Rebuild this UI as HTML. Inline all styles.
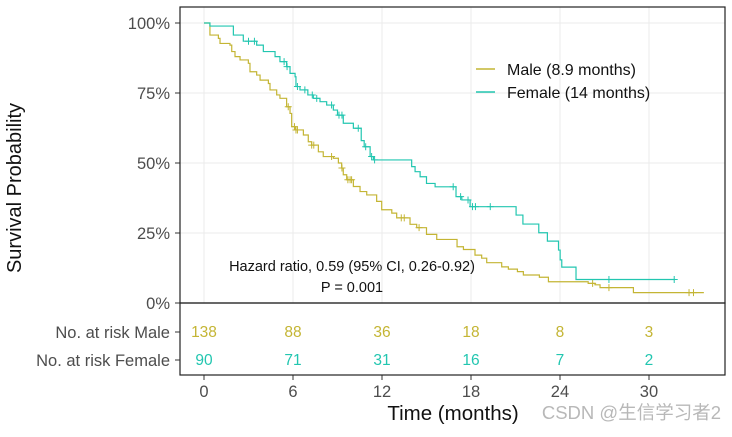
<!DOCTYPE html>
<html><head><meta charset="utf-8"><style>
body{margin:0;background:#fff;}
svg text{font-family:"Liberation Sans",Arial,sans-serif;}
</style></head><body>
<svg id="chart" width="732" height="432" viewBox="0 0 732 432" xmlns="http://www.w3.org/2000/svg">
<g id="grid"></g>
<g id="curves"></g>
<g id="axes"></g>
<rect x="180" y="7" width="545" height="296" fill="none" stroke="#222" stroke-width="1.2"/>
<rect x="180" y="303" width="545" height="72" fill="none" stroke="#222" stroke-width="1.2"/>
<g>
<line x1="476" y1="69" x2="495" y2="69" stroke="#c4b534" stroke-width="1.5"/>
<text x="507" y="75" font-size="16" fill="#111">Male (8.9 months)</text>
<line x1="476" y1="92" x2="495" y2="92" stroke="#22c6b0" stroke-width="1.5"/>
<text x="507" y="98" font-size="16" fill="#111">Female (14 months)</text>
</g>
<text x="352" y="271" font-size="14.5" text-anchor="middle" fill="#111">Hazard ratio, 0.59 (95% CI, 0.26-0.92)</text>
<text x="352" y="292" font-size="14.5" text-anchor="middle" fill="#111">P = 0.001</text>
<text transform="translate(21,188) rotate(-90)" font-size="20" text-anchor="middle" fill="#111">Survival Probability</text>
<text x="453" y="420" font-size="20.5" text-anchor="middle" fill="#111">Time (months)</text>
<text x="170" y="338" font-size="16.5" text-anchor="end" fill="#4d4d4d">No. at risk Male</text>
<text x="170" y="366" font-size="16.5" text-anchor="end" fill="#4d4d4d">No. at risk Female</text>
<line x1="175" y1="332" x2="180" y2="332" stroke="#333"/>
<line x1="175" y1="360" x2="180" y2="360" stroke="#333"/>
<text x="721" y="419" font-size="18.5" text-anchor="end" fill="#b8b8b8" style='font-family:"Liberation Sans","Noto Sans CJK SC",sans-serif'>CSDN @生信学习者2</text>
</svg>
<script>
const xTicks=[0,6,12,18,24,30];
const yTicks=[0,25,50,75,100];
const yTickLabels=["0%","25%","50%","75%","100%"];
const maleTimes=[0,0.40,0.97,1.08,1.75,1.87,2.09,2.43,2.99,3.1,3.55,3.78,4.34,4.45,4.9,5.12,5.57,5.8,5.91,6.14,6.7,7.03,7.26,7.71,8.04,8.72,9.06,9.28,9.39,9.62,10.07,10.52,10.97,11.64,11.98,12.66,12.99,13.89,14.34,15.0,15.69,17.06,17.49,18.27,18.72,19.06,20.07,20.52,21.13,21.53,22.61,23.22,25.9,26.36,26.7,28.95];
const maleSurv=[100,95.7,94.5,92.7,92.1,89.8,88.0,86.8,85.6,82.6,81.4,79.6,78.4,76.1,74.3,73.1,70.1,67.7,63.0,61.8,60.0,57.6,56.4,54.0,52.3,51.7,50.0,48.2,45.8,44.0,41.6,39.8,38.6,36.3,33.3,32.1,30.4,28.1,26.9,24.5,22.7,20.1,19.1,17.1,16.0,14.4,12.9,12.1,11.2,10.0,9.2,7.6,7.0,6.5,5.5,3.7];
const maleEnd=33.7;
const maleCensor=[5.68,6.1,6.2,6.3,7.26,7.4,8.6,9.3,9.7,9.85,9.95,13.3,13.5,14.5,26.2,27.3,32.7,33.0];
const femaleTimes=[0,0.4,1.98,2.65,3.55,4.0,4.79,5.12,5.57,5.8,6.14,6.2,6.47,7.0,7.37,7.82,8.27,8.72,9.0,9.39,10.07,10.6,10.8,11.2,11.42,14.0,14.23,14.57,15.0,15.58,16.99,17.38,17.94,21.04,21.5,22.57,23.15,23.9,24.01,24.12,25.08];
const femaleSurv=[100,98.9,95.7,93.5,92.1,89.8,88.0,86.2,84.4,82.0,80.8,77.3,76.1,74.3,73.1,71.9,70.7,68.9,67.1,64.2,62.4,58.0,55.8,52.3,51.1,48.7,46.9,45.1,42.7,41.5,38.0,36.8,34.4,31.4,28.2,25.1,22.1,18.9,15.4,12.8,8.4];
const femaleEnd=31.76;
const femaleCensor=[3.0,3.4,5.4,5.6,6.3,6.8,7.3,7.6,8.6,9.1,9.3,10.4,10.9,11.3,11.5,16.8,17.3,17.8,18.1,18.3,19.3,27.3,31.7];
const riskMale=[138,88,36,18,8,3];
const riskFemale=[90,71,31,16,7,2];
const MALE="#c4b534",FEMALE="#22c6b0";
const X=t=>204+t*14.833;
const Y=p=>303-p*2.8;
const NS="http://www.w3.org/2000/svg";
function mk(tag,attrs,parent){const e=document.createElementNS(NS,tag);for(const k in attrs)e.setAttribute(k,attrs[k]);parent.appendChild(e);return e;}
const grid=document.getElementById('grid'),curves=document.getElementById('curves'),axes=document.getElementById('axes');
xTicks.forEach((t,i)=>{
  const g=mk('line',{x1:X(t),x2:X(t),y1:7,y2:303,stroke:'#ebebeb','stroke-width':1},grid);
  
  
  const tk=mk('line',{x1:X(t),x2:X(t),y1:375,y2:380,stroke:'#333'},axes);
  
  
  const lb=mk('text',{x:X(t),y:397,'font-size':16.5,'text-anchor':'middle',fill:'#4d4d4d'},axes);
  lb.textContent=t;
  
  
  const rm=mk('text',{x:X(t),y:337,'font-size':15.5,'text-anchor':'middle',fill:MALE},axes);
  rm.textContent=riskMale[i];
  
  
  const rf=mk('text',{x:X(t),y:365,'font-size':15.5,'text-anchor':'middle',fill:FEMALE},axes);
  rf.textContent=riskFemale[i];
  
  
});
yTicks.forEach((p,i)=>{
  const g=mk('line',{x1:180,x2:725,y1:Y(p),y2:Y(p),stroke:'#ebebeb','stroke-width':1},grid);
  
  
  const tk=mk('line',{x1:175,x2:180,y1:Y(p),y2:Y(p),stroke:'#333'},axes);
  
  
  const lb=mk('text',{x:170,y:Y(p)+6,'font-size':16.5,'text-anchor':'end',fill:'#4d4d4d'},axes);
  lb.textContent=yTickLabels[i];
  
  
});
function survAt(times,surv,t){let s=surv[0];for(let i=0;i<times.length;i++){if(times[i]<=t)s=surv[i];}return s;}
function drawCurve(times,surv,end,censor,color,name){
  let d='M'+X(times[0])+','+Y(surv[0]);
  for(let i=1;i<times.length;i++){d+=' H'+X(times[i])+' V'+Y(surv[i]);}
  d+=' H'+X(end);
  const p=mk('path',{d:d,fill:'none',stroke:color,'stroke-width':1.2},curves);
  
  
  censor.forEach(t=>{
    const s=survAt(times,surv,t),cx=X(t),cy=Y(s);
    const c=mk('path',{d:`M${cx-3.5},${cy} H${cx+3.5} M${cx},${cy-3.5} V${cy+3.5}`,stroke:color,'stroke-width':1},curves);
    
    
  });
}
drawCurve(maleTimes,maleSurv,maleEnd,maleCensor,MALE,'male');
drawCurve(femaleTimes,femaleSurv,femaleEnd,femaleCensor,FEMALE,'female');
</script>
</body></html>
